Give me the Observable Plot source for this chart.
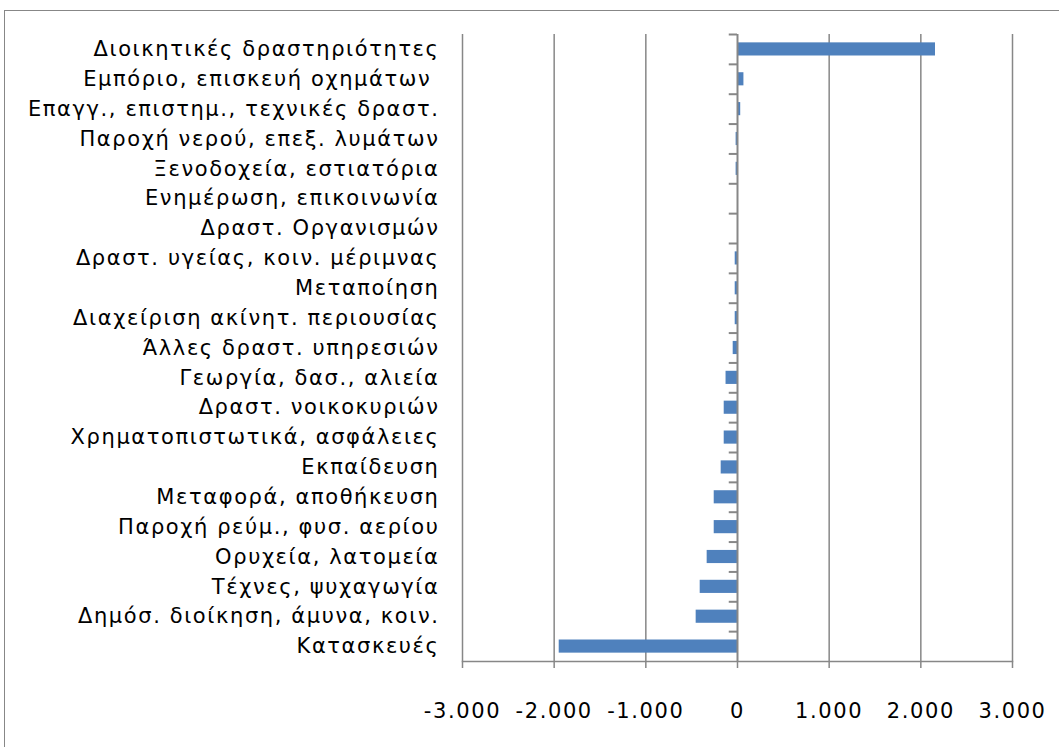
<!DOCTYPE html>
<html><head><meta charset="utf-8">
<script src="https://cdn.jsdelivr.net/npm/d3@7"></script>
<script src="https://cdn.jsdelivr.net/npm/@observablehq/plot@0.6"></script>
<style>
body{margin:0;background:#fff;overflow:hidden}
#frame{position:absolute;left:4px;top:10px;width:1200px;height:900px;border:1.5px solid #878787;pointer-events:none}
svg text{white-space:pre}
</style></head>
<body><div id="chart"></div><div id="frame"></div>
<script>
const categories = [
  "Διοικητικές δραστηριότητες",
  "Εμπόριο, επισκευή οχημάτων ",
  "Επαγγ., επιστημ., τεχνικές δραστ.",
  "Παροχή νερού, επεξ. λυμάτων",
  "Ξενοδοχεία, εστιατόρια",
  "Ενημέρωση, επικοινωνία",
  "Δραστ. Οργανισμών",
  "Δραστ. υγείας, κοιν. μέριμνας",
  "Μεταποίηση",
  "Διαχείριση ακίνητ. περιουσίας",
  "Άλλες δραστ. υπηρεσιών",
  "Γεωργία, δασ., αλιεία",
  "Δραστ. νοικοκυριών",
  "Χρηματοπιστωτικά, ασφάλειες",
  "Εκπαίδευση",
  "Μεταφορά, αποθήκευση",
  "Παροχή ρεύμ., φυσ. αερίου",
  "Ορυχεία, λατομεία",
  "Τέχνες, ψυχαγωγία",
  "Δημόσ. διοίκηση, άμυνα, κοιν.",
  "Κατασκευές"
];
const values = [2160, 70, 35, -15, -15, 0, 0, -25, -25, -25, -47, -125, -145, -145, -178, -254, -254, -331, -407, -451, -1945];
const xTicks = [-3000, -2000, -1000, 0, 1000, 2000, 3000];

const data = categories.map((c, i) => ({cat: c, value: values[i]}));
const locale = d3.formatLocale({decimal: ",", thousands: ".", grouping: [3], currency: ["", "€"], minus: "-"});
const fmt = locale.format(",d");

const W = 1059, H = 747, mT = 34, mB = 86, mL = 462, mR = 47;
const n = categories.length;
const step = (H - mT - mB) / n;
const pad = 0.56;
const grey = "#878787";

const chart = Plot.plot({
  width: W, height: H,
  marginTop: mT, marginBottom: mB, marginLeft: mL, marginRight: mR,
  style: {fontSize: "21px", fontFamily: "'DejaVu Sans', sans-serif", letterSpacing: "1.6px", color: "#000", background: "#fff"},
  x: {domain: [-3000, 3000], ticks: xTicks, tickFormat: fmt},
  y: {domain: categories, padding: pad, round: false, range: [mT - (pad / 2) * step, H - mB + (pad / 2) * step]},
  marks: [
    Plot.ruleX(xTicks.filter(t => t !== 0), {stroke: grey, strokeWidth: 1.5}),
    Plot.barX(data, {x: "value", y: "cat", fill: "#4F81BD"}),
    Plot.ruleX([0], {stroke: grey, strokeWidth: 2}),
    Plot.ruleY(categories, {y: d => d, x1: 0, x2: -90, dy: -step / 2, stroke: grey, strokeWidth: 2}),
    Plot.frame({anchor: "bottom", stroke: grey, strokeWidth: 1.5}),
    Plot.axisX({ticks: xTicks, tickFormat: fmt, tickSize: 7, tickPadding: 35, stroke: grey, strokeWidth: 1.5, label: null, fill: "#000"}),
    Plot.axisY({tickSize: 0, tickPadding: 23, label: null, fill: "#000"})
  ]
});
document.getElementById("chart").appendChild(chart);
</script>
</body></html>
